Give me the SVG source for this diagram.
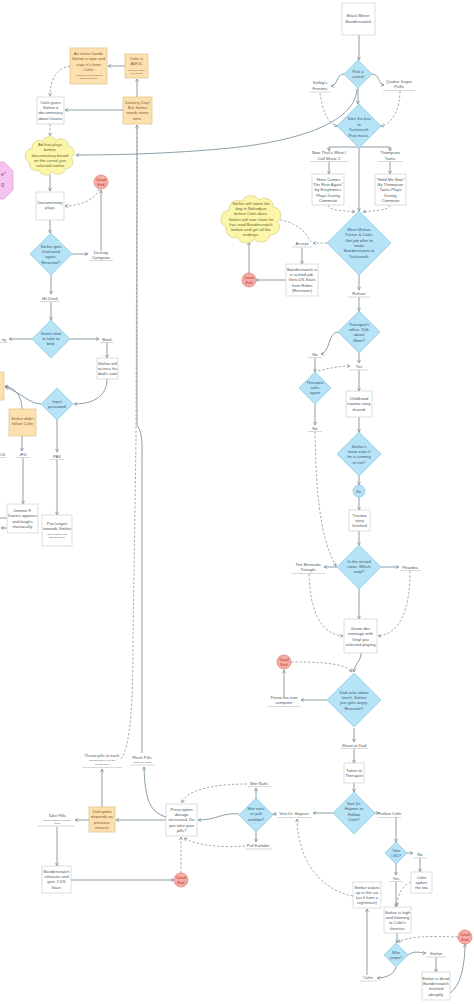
<svg xmlns="http://www.w3.org/2000/svg" width="474" height="1004" viewBox="0 0 474 1004">
<style>
.t{font-family:"Liberation Sans",Arial,sans-serif;font-size:4.2px;fill:#4f5a62;text-anchor:middle}
.s{font-size:2.5px}
.dt{fill:#3d5a6c}
.ot{fill:#85612c}
.ct{fill:#6b6430}
.rt{fill:#b5342b;font-size:3.8px}
.d{fill:#b7e3f7;stroke:#82c5e0;stroke-width:.7}
.w{fill:#fff;stroke:#cfcfcf;stroke-width:.7}
.o{fill:#fde0b0;stroke:#e3bf83;stroke-width:.7}
.c{fill:#fbf6aa;stroke:#d9cf7c;stroke-width:.7}
.r{fill:#f5aca5;stroke:#dd7d75;stroke-width:.7}
.p{fill:#f6c3f0;stroke:#de9ddb;stroke-width:.7}
.u{stroke:#bdbdbd;stroke-width:.6;fill:none}
.l{fill:none;stroke:#7f939f;stroke-width:.9}
.k{fill:none;stroke:#98a3aa;stroke-width:.9;stroke-dasharray:2.4 1.8}
</style>
<defs>
<marker id="a" viewBox="0 0 6 6" refX="5.4" refY="3" markerWidth="4" markerHeight="4" orient="auto" markerUnits="userSpaceOnUse"><path d="M0.6,0.6 L5.4,3 L0.6,5.4" fill="none" stroke="#7f939f" stroke-width="1.1"/></marker>
<path id="cloud" vector-effect="non-scaling-stroke" d="M15,25 A14,14 0 0 1 35,10 A15,15 0 0 1 62,8 A14,14 0 0 1 85,20 A14,14 0 0 1 92,45 A14,14 0 0 1 80,68 A14,14 0 0 1 55,75 A15,15 0 0 1 28,72 A14,14 0 0 1 10,55 A16,16 0 0 1 15,25 Z"/>
</defs>
<rect width="474" height="1004" fill="#fff"/>

<g id="connectors">
<path class="l" marker-end="url(#a)" d="M359,35 V60"/>
<path class="l" marker-end="url(#a)" d="M344,74 C336,74 338,86 331,86"/>
<path class="l" marker-end="url(#a)" d="M372,74 C380,74 378,85 384,85"/>
<path class="k" marker-end="url(#a)" d="M320,93 C322,110 328,124 337,126"/>
<path class="k" marker-end="url(#a)" d="M400,91 C400,110 392,124 381,126"/>
<path class="l" marker-end="url(#a)" d="M358,88 V104"/>
<path class="l" marker-end="url(#a)" d="M357,89 C355,125 290,142 230,148 S110,155 76,155"/>
<path class="l" marker-end="url(#a)" d="M359,147 H329 V151"/>
<path class="l" marker-end="url(#a)" d="M359,147 H390 V151"/>
<path class="l" marker-end="url(#a)" d="M359,148 V211"/>
<path class="l" marker-end="url(#a)" d="M329,162 V174"/>
<path class="l" marker-end="url(#a)" d="M390,162 V174"/>
<path class="k" marker-end="url(#a)" d="M328,205 C330,212 345,210 355,212"/>
<path class="k" marker-end="url(#a)" d="M390,205 C388,212 372,210 363,212"/>
<path class="k" marker-end="url(#a)" d="M327,243 H313"/>
<path class="k" d="M276,219 C295,222 305,230 311,242"/>
<path class="l" marker-end="url(#a)" d="M302,248 V264"/>
<path class="l" marker-end="url(#a)" d="M286,280 H256"/>
<path class="l" marker-end="url(#a)" d="M249,273 V242"/>
<path class="l" marker-end="url(#a)" d="M359,275 V290"/>
<path class="l" marker-end="url(#a)" d="M359,297 V311"/>
<path class="l" marker-end="url(#a)" d="M338,332 C328,332 330,353 321,354"/>
<path class="l" marker-end="url(#a)" d="M359,353 V363"/>
<path class="k" marker-end="url(#a)" d="M318,371 C330,368 340,366 350,366"/>
<path class="l" marker-end="url(#a)" d="M315,358 V372"/>
<path class="l" marker-end="url(#a)" d="M359,370 V391"/>
<path class="l" marker-end="url(#a)" d="M315,404 V425"/>
<path class="k" marker-end="url(#a)" d="M315,432 C316,480 318,535 336,566"/>
<path class="l" marker-end="url(#a)" d="M359,417 V432"/>
<path class="l" marker-end="url(#a)" d="M359,476 V485"/>
<path class="l" marker-end="url(#a)" d="M359,497 V510"/>
<path class="l" marker-end="url(#a)" d="M359,531 V545"/>
<path class="l" marker-end="url(#a)" d="M337,567 H324"/>
<path class="l" marker-end="url(#a)" d="M381,567 H399"/>
<path class="l" marker-end="url(#a)" d="M359,589 V619"/>
<path class="k" marker-end="url(#a)" d="M309,574 C310,610 320,634 343,636"/>
<path class="k" marker-end="url(#a)" d="M410,571 C410,610 400,634 378,636"/>
<path class="l" marker-end="url(#a)" d="M361,653 C361,662 354,664 354,672"/>
<path class="k" marker-end="url(#a)" d="M291,662 C320,662 345,663 352,672"/>
<path class="l" marker-end="url(#a)" d="M327,700 H301"/>
<path class="l" marker-end="url(#a)" d="M284,697 V670"/>
<path class="l" marker-end="url(#a)" d="M354,728 V742"/>
<path class="l" marker-end="url(#a)" d="M354,749 V763"/>
<path class="l" marker-end="url(#a)" d="M354,783 V792"/>
<path class="l" marker-end="url(#a)" d="M375,813 H379"/>
<path class="l" marker-end="url(#a)" d="M333,813 H313"/>
<path class="l" marker-end="url(#a)" d="M277,814 H273"/>
<path class="l" marker-end="url(#a)" d="M256,798 V788"/>
<path class="l" marker-end="url(#a)" d="M256,832 V842"/>
<path class="k" marker-end="url(#a)" d="M247,784 C215,784 185,790 182,803"/>
<path class="k" marker-end="url(#a)" d="M245,846 C220,848 195,845 184,838"/>
<path class="l" marker-end="url(#a)" d="M239,814 C222,812 218,820 198,820"/>
<path class="l" marker-end="url(#a)" d="M166,820 H116"/>
<path class="l" marker-end="url(#a)" d="M166,817 C150,812 145,800 144,767"/>
<path class="l" marker-end="url(#a)" d="M102,807 V769"/>
<path class="l" marker-end="url(#a)" d="M89,820 H75"/>
<path class="l" marker-end="url(#a)" d="M57,827 V866"/>
<path class="l" marker-end="url(#a)" d="M71,880 H174"/>
<path class="k" marker-end="url(#a)" d="M181,873 V837"/>
<path class="l" marker-end="url(#a)" d="M142,753 V445 Q142,432 137,425 V125"/>
<path class="k" d="M121,759 C131,745 133,700 133,640 L136,440 L137,126"/>
<path class="l" marker-end="url(#a)" d="M396,817 V842"/>
<path class="l" marker-end="url(#a)" d="M407,853 H413"/>
<path class="l" marker-end="url(#a)" d="M396,864 V875"/>
<path class="l" marker-end="url(#a)" d="M420,858 V872"/>
<path class="k" marker-end="url(#a)" d="M411,882 C402,886 397,895 397,906"/>
<path class="l" marker-end="url(#a)" d="M396,882 V907"/>
<path class="l" marker-end="url(#a)" d="M397,933 V943"/>
<path class="k" marker-end="url(#a)" d="M458,937 C430,936 410,936 398,942"/>
<path class="l" marker-end="url(#a)" d="M408,955 C415,950 420,953 426,953"/>
<path class="l" marker-end="url(#a)" d="M436,957 V972"/>
<path class="l" marker-end="url(#a)" d="M450,993 C462,985 465,960 465,944"/>
<path class="l" marker-end="url(#a)" d="M396,967 C394,975 385,978 377,978"/>
<path class="l" marker-end="url(#a)" d="M367,975 V909"/>
<path class="k" marker-end="url(#a)" d="M353,896 C320,890 298,860 297,819"/>
<path class="l" marker-end="url(#a)" d="M125,66 H108"/>
<path class="l" marker-end="url(#a)" d="M137,97 V79"/>
<path class="l" marker-end="url(#a)" d="M123,110 H65"/>
<path class="k" marker-end="url(#a)" d="M70,66 C58,68 50,78 50,96"/>
<path class="k" marker-end="url(#a)" d="M50,124 V136"/>
<path class="l" marker-end="url(#a)" d="M50,175 V191"/>
<path class="k" marker-end="url(#a)" d="M99,189 C95,200 80,206 65,206"/>
<path class="l" marker-end="url(#a)" d="M101,251 V190"/>
<path class="l" marker-end="url(#a)" d="M50,220 V233"/>
<path class="l" marker-end="url(#a)" d="M72,254 H88"/>
<path class="l" marker-end="url(#a)" d="M51,275 V294"/>
<path class="l" marker-end="url(#a)" d="M51,302 V320"/>
<path class="l" marker-end="url(#a)" d="M70,339 H99"/>
<path class="l" marker-end="url(#a)" d="M32,339 H9"/>
<path class="l" marker-end="url(#a)" d="M107,343 V358"/>
<path class="l" marker-end="url(#a)" d="M107,379 C107,395 95,404 74,404"/>
<path class="l" marker-end="url(#a)" d="M41,404 C30,404 20,392 5,387"/>
<path class="l" marker-end="url(#a)" d="M22,409 C22,396 15,388 5,386"/>
<path class="l" marker-end="url(#a)" d="M22,436 V451"/>
<path class="l" marker-end="url(#a)" d="M57,420 V452"/>
<path class="l" marker-end="url(#a)" d="M23,458 V504"/>
<path class="l" marker-end="url(#a)" d="M57,460 V515"/>
<path class="l" d="M0,518 H7"/>
<path class="l" marker-end="url(#a)" d="M7,528 H1"/>
</g>

<g id="n-start"><rect class="w" x="342" y="3" width="33" height="32"/><text class="t"><tspan x="358.5" y="17">Black Mirror:</tspan><tspan x="358.5" y="22.5">Bandersnatch</tspan></text></g>
<g id="n-cereal"><polygon class="d" points="358,60 372,74 358,88 344,74"/><text class="t dt"><tspan x="358" y="73">Pick a</tspan><tspan x="358" y="78">cereal</tspan></text></g>
<g id="l-kelloggs"><text class="t"><tspan x="320" y="84">Kellog's</tspan><tspan x="320" y="89.5">Frosties</tspan></text><path class="u" d="M309,92 H331"/></g>
<g id="l-quaker"><text class="t"><tspan x="399" y="82.5">Quaker Sugar</tspan><tspan x="399" y="88">Puffs</tspan></text><path class="u" d="M383,90.5 H415"/></g>
<g id="n-bus"><polygon class="d" points="359,104 381,126 359,148 337,126"/><text class="t dt"><tspan x="359" y="120">Take the bus</tspan><tspan x="359" y="125.5">to</tspan><tspan x="359" y="131">Tuckersoft.</tspan><tspan x="359" y="136.5">Pick music.</tspan></text></g>
<g id="l-nowthat"><text class="t"><tspan x="329" y="154">Now That's What I</tspan><tspan x="329" y="159.5">Call Music 2</tspan></text><path class="u" d="M310,161.5 H348"/></g>
<g id="l-thompson"><text class="t"><tspan x="390" y="154">Thompson</tspan><tspan x="390" y="159.5">Twins</tspan></text><path class="u" d="M378,161.5 H403"/></g>
<g id="n-eurythmics"><rect class="w" x="312" y="174" width="32" height="31"/><text class="t"><tspan x="328" y="181">"Here Comes</tspan><tspan x="328" y="186.2">The Rain Again"</tspan><tspan x="328" y="191.4">by Eurythmics</tspan><tspan x="328" y="196.6">Plays During</tspan><tspan x="328" y="201.8">Commute</tspan></text></g>
<g id="n-holdme"><rect class="w" x="375" y="174" width="31" height="31"/><text class="t"><tspan x="390.5" y="181">"Hold Me Now"</tspan><tspan x="390.5" y="186.2">By Thompson</tspan><tspan x="390.5" y="191.4">Twins Plays</tspan><tspan x="390.5" y="196.6">During</tspan><tspan x="390.5" y="201.8">Commute</tspan></text></g>
<g id="n-mohan"><polygon class="d" points="359,211 391,243 359,275 327,243"/><text class="t dt"><tspan x="359" y="231">Meet Mohan</tspan><tspan x="359" y="236.3">Tucker &amp; Colin.</tspan><tspan x="359" y="241.6">Get job offer to</tspan><tspan x="359" y="246.9">make</tspan><tspan x="359" y="252.2">Bandersnatch at</tspan><tspan x="359" y="257.5">Tuckersoft.</tspan></text></g>
<g id="l-accept"><text class="t" x="302" y="244.5">Accept</text><path class="u" d="M292,247 H312"/></g>
<g id="n-rushed"><rect class="w" x="286" y="264" width="32" height="32"/><text class="t"><tspan x="302" y="271">Bandersnatch is</tspan><tspan x="302" y="276.2">a rushed job.</tspan><tspan x="302" y="281.4">Gets 0/5 Stars</tspan><tspan x="302" y="286.6">from Robin</tspan><tspan x="302" y="291.8">(Reviewer)</tspan></text></g>
<g id="n-dead1"><circle class="r" cx="249" cy="280" r="7"/><text class="t rt"><tspan x="249" y="279">Dead</tspan><tspan x="249" y="283.5">End</tspan></text></g>
<g id="n-cloud2"><use href="#cloud" class="c" transform="translate(220,195.4) scale(0.625,0.58)"/><text class="t ct"><tspan x="251" y="205">Stefan will name the</tspan><tspan x="251" y="210.2">bug in Nohzdyve</tspan><tspan x="251" y="215.4">before Colin does.</tspan><tspan x="251" y="220.6">Stefan will now claim he</tspan><tspan x="251" y="225.8">has read Bandersnatch</tspan><tspan x="251" y="231">before and get all the</tspan><tspan x="251" y="236.2">endings.</tspan></text></g>
<g id="l-refuse"><text class="t" x="359" y="294.5">Refuse</text><path class="u" d="M348,297 H370"/></g>
<g id="n-therapist"><polygon class="d" points="359,311 380,332 359,353 338,332"/><text class="t dt"><tspan x="359" y="326">Therapist's</tspan><tspan x="359" y="331.2">office. Talk</tspan><tspan x="359" y="336.4">about</tspan><tspan x="359" y="341.6">Mom?</tspan></text></g>
<g id="l-no1"><text class="t" x="315" y="355.5">No</text><path class="u" d="M308,357.5 H322"/></g>
<g id="l-yes1"><text class="t" x="359" y="368">Yes</text><path class="u" d="M350,370 H368"/></g>
<g id="n-asks"><polygon class="d" points="315,372 331,388 315,404 299,388"/><text class="t dt"><tspan x="315" y="384">Therapist</tspan><tspan x="315" y="389.2">asks</tspan><tspan x="315" y="394.4">again</tspan></text></g>
<g id="n-childhood"><rect class="w" x="346" y="391" width="26" height="26"/><text class="t"><tspan x="359" y="400">Childhood</tspan><tspan x="359" y="405.4">trauma story</tspan><tspan x="359" y="410.8">shared.</tspan></text></g>
<g id="l-no2"><text class="t" x="315" y="429.5">No</text><path class="u" d="M308,431.5 H322"/></g>
<g id="n-mom"><polygon class="d" points="359,432 381,454 359,476 337,454"/><text class="t dt"><tspan x="359" y="448">Stefan's</tspan><tspan x="359" y="453.2">mom asks if</tspan><tspan x="359" y="458.4">he is coming</tspan><tspan x="359" y="463.6">or not?</tspan></text></g>
<g id="n-no3"><circle class="d" cx="359" cy="491" r="6"/><text class="t dt" x="359" y="492.5" style="font-size:3.6px">No.</text></g>
<g id="n-trauma"><rect class="w" x="349" y="510" width="21" height="21"/><text class="t"><tspan x="359.5" y="517">Trauma</tspan><tspan x="359.5" y="522.2">story</tspan><tspan x="359.5" y="527.4">finished</tspan></text></g>
<g id="n-record"><polygon class="d" points="359,545 381,567 359,589 337,567"/><text class="t dt"><tspan x="359" y="563">In the record</tspan><tspan x="359" y="568.2">store. Which</tspan><tspan x="359" y="573.4">vinyl?</tspan></text></g>
<g id="l-bermuda"><text class="t"><tspan x="308" y="565.5">The Bermuda</tspan><tspan x="308" y="571">Triangle</tspan></text><path class="u" d="M292,573.5 H325"/></g>
<g id="l-phaedra"><text class="t" x="410" y="568.5">Phaedra</text><path class="u" d="M400,570.5 H421"/></g>
<g id="n-gamedev"><rect class="w" x="344" y="619" width="33" height="34"/><text class="t"><tspan x="360.5" y="630">Game dev</tspan><tspan x="360.5" y="635.3">montage with</tspan><tspan x="360.5" y="640.6">Vinyl you</tspan><tspan x="360.5" y="645.9">selected playing</tspan></text></g>
<g id="n-dead2"><circle class="r" cx="284" cy="662" r="7"/><text class="t rt"><tspan x="284" y="661">Dead</tspan><tspan x="284" y="665.5">End</tspan></text></g>
<g id="n-dad"><polygon class="d" points="354,673 381,700 354,727 327,700"/><text class="t dt"><tspan x="354" y="694">Dad asks about</tspan><tspan x="354" y="699.2">lunch. Stefan</tspan><tspan x="354" y="704.4">just gets angry.</tspan><tspan x="354" y="709.6">Reaction?</tspan></text></g>
<g id="l-throwtea"><text class="t"><tspan x="284" y="699">Throw tea over</tspan><tspan x="284" y="704.3">computer</tspan></text><path class="u" d="M268,706.5 H300"/></g>
<g id="l-shout"><text class="t" x="354" y="746.5">Shout at Dad</text><path class="u" d="M340,748.5 H368"/></g>
<g id="n-taken"><rect class="w" x="344" y="763" width="20" height="20"/><text class="t"><tspan x="354" y="772">Taken to</tspan><tspan x="354" y="777.3">Therapist</tspan></text></g>
<g id="n-see"><polygon class="d" points="354,792 375,813 354,834 333,813"/><text class="t dt"><tspan x="354" y="805">See Dr.</tspan><tspan x="354" y="810.3">Haynes or</tspan><tspan x="354" y="815.6">Follow</tspan><tspan x="354" y="820.9">Colin?</tspan></text></g>
<g id="l-follow"><text class="t" x="390" y="815">Follow Colin</text><path class="u" d="M378,817.5 H401"/></g>
<g id="l-visit"><text class="t" x="294" y="815">Visit Dr. Haynes</text><path class="u" d="M277,817.5 H312"/></g>
<g id="n-bite"><polygon class="d" points="256,798 273,815 256,832 239,815"/><text class="t dt"><tspan x="256" y="810">Bite nails</tspan><tspan x="256" y="815.3">or pull</tspan><tspan x="256" y="820.6">earlobe?</tspan></text></g>
<g id="l-bitenails"><text class="t" x="259" y="784.5">Bite Nails</text><path class="u" d="M248,786.5 H271"/></g>
<g id="l-pull"><text class="t" x="258" y="847">Pull Earlobe</text><path class="u" d="M245,849 H272"/></g>
<g id="n-prescription"><rect class="w" x="166" y="804" width="31" height="32"/><text class="t"><tspan x="181.5" y="811">Prescription</tspan><tspan x="181.5" y="816.2">dosage</tspan><tspan x="181.5" y="821.4">increased. Do</tspan><tspan x="181.5" y="826.6">you take your</tspan><tspan x="181.5" y="831.8">pills?</tspan></text></g>
<g id="n-2nd"><rect class="o" x="89" y="807" width="26" height="25"/><text class="t ot"><tspan x="102" y="813">2nd option</tspan><tspan x="102" y="818.3">depends on</tspan><tspan x="102" y="823.6">previous</tspan><tspan x="102" y="828.9">choices</tspan></text></g>
<g id="l-takepills"><text class="t" x="57" y="817">Take Pills</text><text class="t s"><tspan x="57" y="821">Not an option if you take</tspan><tspan x="57" y="824">Colin</tspan></text><path class="u" d="M38,826 H74"/></g>
<g id="n-releases"><rect class="w" x="42" y="866" width="29" height="27"/><text class="t"><tspan x="56.5" y="873">Bandersnatch</tspan><tspan x="56.5" y="878.2">releases and</tspan><tspan x="56.5" y="883.4">gets 2.5/5</tspan><tspan x="56.5" y="888.6">Stars</tspan></text></g>
<g id="n-dead3"><circle class="r" cx="181" cy="880" r="7"/><text class="t rt"><tspan x="181" y="879">Dead</tspan><tspan x="181" y="883.5">End</tspan></text></g>
<g id="l-throwpills"><text class="t" x="102" y="757">Throw pills in trash</text><text class="t s"><tspan x="102" y="761">Not an option if you did</tspan><tspan x="102" y="764.5">not get Colin</tspan></text><path class="u" d="M82,767.5 H122"/></g>
<g id="l-flush"><text class="t" x="142" y="758.5">Flush Pills</text><text class="t s" x="142" y="762.5">Always an option</text><path class="u" d="M130,765 H155"/></g>
<g id="n-lsd"><polygon class="d" points="396,842 407,853 396,864 385,853"/><text class="t dt" style="font-size:3.8px"><tspan x="396" y="852.3">Take</tspan><tspan x="396" y="857">LSD?</tspan></text></g>
<g id="l-no4"><text class="t" x="420" y="855.5">No</text><path class="u" d="M413,858 H427"/></g>
<g id="l-yes2"><text class="t" x="396" y="879.5">Yes</text><path class="u" d="M389,881.5 H403"/></g>
<g id="n-spikes"><rect class="w" x="411" y="872" width="21" height="21"/><text class="t"><tspan x="421.5" y="879">Colin</tspan><tspan x="421.5" y="884.2">spikes</tspan><tspan x="421.5" y="889.4">the tea</tspan></text></g>
<g id="n-wakes"><rect class="w" x="353" y="882" width="28" height="26"/><text class="t"><tspan x="367" y="888.5">Stefan wakes</tspan><tspan x="367" y="893.7">up in the car</tspan><tspan x="367" y="898.9">(as if from a</tspan><tspan x="367" y="904.1">nightmare)</tspan></text></g>
<g id="n-high"><rect class="w" x="384" y="907" width="27" height="26"/><text class="t"><tspan x="397.5" y="914">Stefan is high</tspan><tspan x="397.5" y="919.2">and listening</tspan><tspan x="397.5" y="924.4">to Colin's</tspan><tspan x="397.5" y="929.6">theories</tspan></text></g>
<g id="n-jumps"><polygon class="d" points="396,943 408,955 396,967 384,955"/><text class="t dt" style="font-size:3.8px"><tspan x="396" y="954">Who</tspan><tspan x="396" y="958.7">jumps?</tspan></text></g>
<g id="n-dead4"><circle class="r" cx="465" cy="937" r="7"/><text class="t rt"><tspan x="465" y="936">Dead</tspan><tspan x="465" y="940.5">End</tspan></text></g>
<g id="l-stefan"><text class="t" x="436" y="954.5">Stefan</text><path class="u" d="M426,957 H446"/></g>
<g id="n-deadstefan"><rect class="w" x="422" y="972" width="28" height="28"/><text class="t"><tspan x="436" y="980">Stefan is dead.</tspan><tspan x="436" y="985.2">Bandersnatch</tspan><tspan x="436" y="990.4">finished</tspan><tspan x="436" y="995.6">abruptly.</tspan></text></g>
<g id="l-colin"><text class="t" x="368" y="978.5">Colin</text><path class="u" d="M360,981 H377"/></g>

<g id="n-intern"><rect class="o" x="70" y="48" width="37" height="36"/><text class="t ot"><tspan x="88.5" y="55">An intern hands</tspan><tspan x="88.5" y="60.4">Stefan a tape and</tspan><tspan x="88.5" y="65.8">says it's from</tspan><tspan x="88.5" y="71.2">Colin</tspan></text><text class="t ot s"><tspan x="88.5" y="76">(Assuming Colin wasn't to</tspan><tspan x="88.5" y="79.3">Stefan's choice)</tspan></text></g>
<g id="n-awol"><rect class="o" x="125" y="54" width="23" height="24"/><text class="t ot"><tspan x="136.5" y="60">Colin is</tspan><tspan x="136.5" y="65.2">AWOL</tspan></text><text class="t ot s"><tspan x="136.5" y="70.5">Timeline where</tspan><tspan x="136.5" y="73.7">he jumped</tspan></text></g>
<g id="n-delivery"><rect class="o" x="123" y="97" width="29" height="27"/><text class="t ot"><tspan x="137.5" y="104">Delivery Day!</tspan><tspan x="137.5" y="109.2">But Stefan</tspan><tspan x="137.5" y="114.4">needs more</tspan><tspan x="137.5" y="119.6">time.</tspan></text></g>
<g id="n-colingives"><rect class="w" x="37" y="97" width="27" height="27"/><text class="t"><tspan x="50.5" y="104">Colin gives</tspan><tspan x="50.5" y="109.2">Stefan a</tspan><tspan x="50.5" y="114.4">documentary</tspan><tspan x="50.5" y="119.6">about Davies</tspan></text></g>
<g id="n-cloud1"><use href="#cloud" class="c" transform="translate(24.5,136.5) scale(0.51,0.47)"/><text class="t ct"><tspan x="50" y="146">Ad that plays</tspan><tspan x="50" y="151.3">before</tspan><tspan x="50" y="156.6">documentary based</tspan><tspan x="50" y="161.9">on the cereal you</tspan><tspan x="50" y="167.2">selected earlier</tspan></text></g>
<g id="n-docplays"><rect class="w" x="36" y="192" width="28" height="28"/><text class="t"><tspan x="50" y="204">Documentary</tspan><tspan x="50" y="209.4">plays</tspan></text></g>
<g id="n-dead0"><circle class="r" cx="101" cy="182" r="7"/><text class="t rt"><tspan x="101" y="181">Dead</tspan><tspan x="101" y="185.5">End</tspan></text></g>
<g id="n-frustrated"><polygon class="d" points="51,233 72,254 51,275 30,254"/><text class="t dt"><tspan x="51" y="248">Stefan gets</tspan><tspan x="51" y="253.2">frustrated</tspan><tspan x="51" y="258.4">again.</tspan><tspan x="51" y="263.6">Reaction?</tspan></text></g>
<g id="l-destroy"><text class="t"><tspan x="101" y="253.5">Destroy</tspan><tspan x="101" y="258.5">Computer</tspan></text><path class="u" d="M90,260.5 H113"/></g>
<g id="l-hitdesk"><text class="t" x="50" y="299.5">Hit Desk</text><path class="u" d="M40,301.5 H60"/></g>
<g id="n-select"><polygon class="d" points="51,320 70,339 51,358 32,339"/><text class="t dt"><tspan x="51" y="335">Select item</tspan><tspan x="51" y="340.2">to take to</tspan><tspan x="51" y="345.4">bed.</tspan></text></g>
<g id="l-book"><text class="t" x="107" y="340.5">Book</text><path class="u" d="M100,342.5 H114"/></g>
<g id="l-bunny"><text class="t" x="6" y="340.5" style="text-anchor:end">ny</text><path class="u" d="M0,342.5 H8"/></g>
<g id="n-safe"><rect class="w" x="97" y="358" width="21" height="21"/><text class="t"><tspan x="107.5" y="365">Stefan will</tspan><tspan x="107.5" y="370.2">access his</tspan><tspan x="107.5" y="375.4">dad's safe</tspan></text></g>
<g id="n-password"><polygon class="d" points="57,388 73,404 57,420 41,404"/><text class="t dt"><tspan x="57" y="403">Input</tspan><tspan x="57" y="408">password</tspan></text></g>
<g id="n-leftorange"><rect class="o" x="-30" y="372" width="34" height="28"/></g>
<g id="n-didnt"><rect class="o" x="9" y="409" width="27" height="27"/><text class="t ot"><tspan x="22.5" y="420">Stefan didn't</tspan><tspan x="22.5" y="425.4">follow Colin</tspan></text></g>
<g id="l-jfd"><text class="t" x="23" y="455.5">JFD</text><path class="u" d="M16,457.5 H30"/></g>
<g id="l-pax"><text class="t" x="57" y="457.5">PAX</text><path class="u" d="M50,459.5 H64"/></g>
<g id="l-cs"><text class="t" x="5" y="455.5" style="text-anchor:end">CS</text><path class="u" d="M0,457.5 H6"/></g>
<g id="n-jerome"><rect class="w" x="7" y="504" width="31" height="29"/><text class="t"><tspan x="22.5" y="512">Jerome F.</tspan><tspan x="22.5" y="517.3">Davies appears</tspan><tspan x="22.5" y="522.6">and laughs</tspan><tspan x="22.5" y="527.9">maniacally</tspan></text></g>
<g id="n-pax"><rect class="w" x="42" y="515" width="30" height="31"/><text class="t"><tspan x="57" y="525">Pax lunges</tspan><tspan x="57" y="530.2">towards Stefan</tspan></text><text class="t s"><tspan x="57" y="535">The monster from</tspan><tspan x="57" y="538.3">Bandersnatch</tspan></text></g>
<g id="n-octagon"><polygon class="p" points="-25,162 4,162 13,171 13,190 4,199 -25,199"/><text class="t" style="font-size:5.5px;fill:#8a3b86;text-anchor:end"><tspan x="6" y="176">e"</tspan><tspan x="4" y="186">g</tspan></text></g>
</svg>
